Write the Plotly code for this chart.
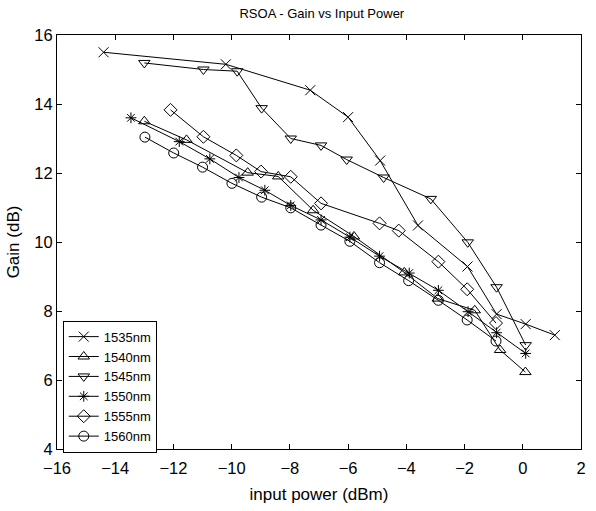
import plotly.graph_objects as go

# ---- data ----
x_1535 = [-14.4, -10.2, -7.3, -6.0, -4.9, -3.6, -1.9, -0.9, 0.1, 1.1]
y_1535 = [15.5, 15.15, 14.4, 13.62, 12.36, 10.48, 9.29, 7.91, 7.62, 7.30]

x_1540 = [-13.0, -11.55, -9.45, -8.4, -7.2, -5.8, -4.07, -2.92, -1.65, -0.78, 0.09]
y_1540 = [13.5, 12.96, 12.01, 11.9, 10.92, 10.16, 9.12, 8.36, 8.02, 6.87, 6.23]

x_1545 = [-13.0, -10.97, -9.81, -8.97, -7.97, -6.93, -6.05, -4.78, -3.16, -1.89, -0.9, 0.1]
y_1545 = [15.19, 15.0, 14.95, 13.88, 13.0, 12.8, 12.39, 11.87, 11.25, 9.99, 8.69, 7.01]

x_1550 = [-13.46, -11.8, -10.75, -9.75, -8.86, -7.97, -6.93, -5.94, -4.92, -3.9, -2.9, -1.88, -0.9, 0.1]
y_1550 = [13.6, 12.91, 12.41, 11.87, 11.5, 11.06, 10.64, 10.14, 9.59, 9.1, 8.6, 7.98, 7.37, 6.77]

x_1555 = [-12.1, -10.97, -9.84, -8.99, -7.97, -6.93, -4.92, -4.26, -2.9, -1.91, -0.92]
y_1555 = [13.83, 13.05, 12.51, 12.04, 11.89, 11.12, 10.54, 10.33, 9.43, 8.63, 7.65]

x_1560 = [-12.98, -11.99, -11.0, -9.99, -8.97, -7.97, -6.93, -5.94, -4.92, -3.92, -2.9, -1.91, -0.92]
y_1560 = [13.04, 12.58, 12.17, 11.7, 11.3, 10.99, 10.49, 10.02, 9.4, 8.88, 8.31, 7.74, 7.13]

series_names = ["1535nm", "1540nm", "1545nm", "1550nm", "1555nm", "1560nm"]
series_symbols = ["x-thin-open", "triangle-up-open", "triangle-down-open",
                  "asterisk-open", "diamond-open", "circle-open"]
series_x = [x_1535, x_1540, x_1545, x_1550, x_1555, x_1560]
series_y = [y_1535, y_1540, y_1545, y_1550, y_1555, y_1560]

x_ticks = [-16, -14, -12, -10, -8, -6, -4, -2, 0, 2]
y_ticks = [4, 6, 8, 10, 12, 14, 16]

FONT = "Liberation Sans, Arial, Helvetica, sans-serif"

fig = go.Figure()
for name, sym, xs, ys in zip(series_names, series_symbols, series_x, series_y):
    fig.add_trace(go.Scatter(
        x=xs, y=ys, name=name, mode="lines+markers",
        line=dict(color="black", width=1),
        marker=dict(symbol=sym, size=10 if sym != "asterisk-open" else 9,
                    color="black", line=dict(color="black", width=1)),
    ))

axis_common = dict(
    showgrid=False, zeroline=False, showline=True, linecolor="black",
    linewidth=1, mirror="ticks", ticks="inside", ticklen=5, tickwidth=1,
    tickcolor="black", tickfont=dict(family=FONT, size=16.5, color="black"),
)

fig.update_layout(
    width=596, height=511,
    margin=dict(l=57, r=10, t=35, b=54),
    paper_bgcolor="white", plot_bgcolor="white",
    font=dict(family=FONT, color="black"),
    title=dict(text="RSOA - Gain vs Input Power", x=0.54, xanchor="center",
               y=1 - 13 / 511, yanchor="middle",
               font=dict(family=FONT, size=13, color="black")),
    xaxis=dict(range=[-16, 2], tickvals=x_ticks, ticklabelstandoff=4,
               title=dict(text="input power (dBm)", standoff=12,
                          font=dict(family=FONT, size=17, color="black")),
               **axis_common),
    yaxis=dict(range=[4, 16], tickvals=y_ticks,
               title=dict(text="Gain (dB)", standoff=10,
                          font=dict(family=FONT, size=17, color="black")),
               **axis_common),
    legend=dict(x=0.011, y=0.31, xanchor="left", yanchor="top",
                bgcolor="white", bordercolor="black", borderwidth=1,
                font=dict(family=FONT, size=13, color="black"),
                tracegroupgap=0, itemwidth=30),
)

fig.write_html("out.html",
               config={"displayModeBar": False},
               post_script="document.body.style.margin='0';")
